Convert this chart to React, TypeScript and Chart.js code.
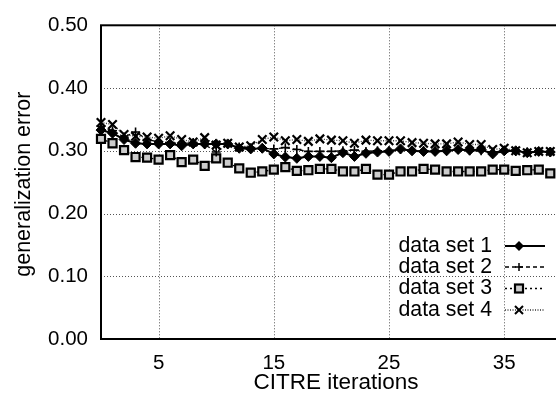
import React, { useEffect, useRef } from "react";
import { Chart, registerables } from "chart.js";

Chart.register(...registerables);

const iterations = [
  0, 1, 2, 3, 4, 5, 6, 7, 8, 9, 10, 11, 12, 13, 14, 15, 16, 17, 18, 19,
  20, 21, 22, 23, 24, 25, 26, 27, 28, 29, 30, 31, 32, 33, 34, 35, 36, 37, 38, 39,
];

const dataSet1 = [
  0.333, 0.328, 0.318, 0.312, 0.311, 0.311, 0.311, 0.308, 0.311, 0.311,
  0.311, 0.311, 0.304, 0.303, 0.304, 0.295, 0.290, 0.288, 0.291, 0.291,
  0.289, 0.297, 0.291, 0.296, 0.298, 0.299, 0.303, 0.300, 0.299, 0.299,
  0.300, 0.302, 0.301, 0.302, 0.295, 0.300, 0.300, 0.297, 0.299, 0.298,
];

const dataSet2 = [
  0.339, 0.332, 0.322, 0.330, 0.318, 0.314, 0.313, 0.311, 0.313, 0.310,
  0.298, 0.310, 0.306, 0.305, 0.304, 0.303, 0.305, 0.302, 0.299, 0.299,
  0.299, 0.300, 0.301, 0.299, 0.300, 0.300, 0.302, 0.300, 0.300, 0.300,
  0.300, 0.302, 0.300, 0.300, 0.298, 0.300, 0.299, 0.298, 0.299, 0.298,
];

const dataSet3 = [
  0.319, 0.312, 0.301, 0.290, 0.289, 0.286, 0.293, 0.282, 0.286, 0.276,
  0.288, 0.281, 0.272, 0.265, 0.267, 0.270, 0.274, 0.268, 0.269, 0.271,
  0.271, 0.267, 0.267, 0.271, 0.262, 0.262, 0.267, 0.267, 0.271, 0.270,
  0.267, 0.267, 0.267, 0.267, 0.270, 0.270, 0.268, 0.269, 0.270, 0.264,
];

const dataSet4 = [
  0.345, 0.342, 0.326, 0.323, 0.322, 0.320, 0.324, 0.318, 0.314, 0.321,
  0.309, 0.312, 0.306, 0.308, 0.318, 0.322, 0.316, 0.318, 0.315, 0.319,
  0.317, 0.316, 0.312, 0.317, 0.316, 0.316, 0.316, 0.313, 0.312, 0.311,
  0.311, 0.314, 0.310, 0.310, 0.302, 0.304, 0.300, 0.297, 0.299, 0.299,
];

const seriesLabels = ["data set 1", "data set 2", "data set 3", "data set 4"];
const xTickValues = [5, 15, 25, 35];
const xTitle = "CITRE iterations";
const yTitle = "generalization error";

const FAMILY = "'Liberation Sans', Arial, sans-serif";

type Style = {
  dash: number[];
  width: number;
  color: string;
  marker: "diamond" | "plus" | "box" | "cross";
};

const styles: Style[] = [
  { dash: [], width: 2, color: "#000", marker: "diamond" },
  { dash: [4, 3], width: 1.3, color: "#000", marker: "plus" },
  { dash: [2, 3], width: 1.3, color: "#000", marker: "box" },
  { dash: [1, 1.5], width: 1.3, color: "#333", marker: "cross" },
];

function drawMarker(ctx: CanvasRenderingContext2D, m: Style["marker"], x: number, y: number) {
  ctx.save();
  ctx.setLineDash([]);
  ctx.strokeStyle = "#000";
  ctx.fillStyle = "#000";
  if (m === "diamond") {
    ctx.beginPath();
    ctx.moveTo(x - 5, y);
    ctx.lineTo(x, y - 5);
    ctx.lineTo(x + 5, y);
    ctx.lineTo(x, y + 5);
    ctx.closePath();
    ctx.fill();
  } else if (m === "plus") {
    ctx.lineWidth = 1.5;
    ctx.beginPath();
    ctx.moveTo(x - 4, y);
    ctx.lineTo(x + 4, y);
    ctx.moveTo(x, y - 4);
    ctx.lineTo(x, y + 4);
    ctx.stroke();
  } else if (m === "box") {
    ctx.lineWidth = 2.2;
    ctx.fillStyle = "#ccc";
    ctx.fillRect(x - 4, y - 4, 8, 8);
    ctx.strokeRect(x - 4, y - 4, 8, 8);
  } else {
    ctx.lineWidth = 2;
    ctx.beginPath();
    ctx.moveTo(x - 4, y - 4);
    ctx.lineTo(x + 4, y + 4);
    ctx.moveTo(x + 4, y - 4);
    ctx.lineTo(x - 4, y + 4);
    ctx.stroke();
  }
  ctx.restore();
}

const framePlugin = {
  id: "gnuplotFrame",
  beforeDatasetsDraw(chart: any) {
    const { ctx, chartArea } = chart;
    const xs = chart.scales.x;
    const ys = chart.scales.y;
    ctx.save();
    ctx.strokeStyle = "#555";
    ctx.lineWidth = 1;
    ctx.setLineDash([1, 2]);
    for (const v of xTickValues) {
      const px = Math.round(xs.getPixelForValue(v)) + 0.5;
      ctx.beginPath();
      ctx.moveTo(px, chartArea.top);
      ctx.lineTo(px, chartArea.bottom);
      ctx.stroke();
    }
    for (const t of ys.ticks) {
      if (t.value <= ys.min + 1e-9 || t.value >= ys.max - 1e-9) continue;
      const py = Math.round(ys.getPixelForValue(t.value)) + 0.5;
      ctx.beginPath();
      ctx.moveTo(chartArea.left, py);
      ctx.lineTo(chartArea.right, py);
      ctx.stroke();
    }
    ctx.setLineDash([]);
    ctx.strokeStyle = "#000";
    ctx.lineWidth = 2;
    ctx.strokeRect(chartArea.left, chartArea.top, chartArea.right - chartArea.left, chartArea.bottom - chartArea.top);
    ctx.restore();
  },
  afterDraw(chart: any) {
    const { ctx, chartArea } = chart;
    ctx.save();
    ctx.fillStyle = "#000";
    // legend
    ctx.font = `21.3px ${FAMILY}`;
    const rowY = [246, 267, 288.5, 310];
    seriesLabels.forEach((label, i) => {
      const s = styles[i];
      ctx.textAlign = "right";
      ctx.textBaseline = "middle";
      ctx.fillText(label, 492, rowY[i]);
      ctx.strokeStyle = s.color;
      ctx.lineWidth = s.width;
      ctx.setLineDash(s.dash);
      ctx.beginPath();
      ctx.moveTo(505, rowY[i]);
      ctx.lineTo(545, rowY[i]);
      ctx.stroke();
      drawMarker(ctx, s.marker, 519, rowY[i]);
    });
    ctx.setLineDash([]);
    // axis titles
    ctx.textAlign = "center";
    ctx.textBaseline = "alphabetic";
    ctx.font = `22.5px ${FAMILY}`;
    ctx.fillText(xTitle, 336, 389);
    ctx.font = `21.5px ${FAMILY}`;
    ctx.translate(30, (chartArea.top + chartArea.bottom) / 2 + 2);
    ctx.rotate(-Math.PI / 2);
    ctx.fillText(yTitle, 0, 0);
    ctx.restore();
  },
};

export default function App() {
  const ref = useRef<HTMLCanvasElement | null>(null);

  useEffect(() => {
    if (!ref.current) return;
    const allSeries = [dataSet1, dataSet2, dataSet3, dataSet4];
    const pointStyleMap: any = { diamond: "rectRot", plus: "cross", box: "rect", cross: "crossRot" };
    const radiusMap: any = { diamond: 5, plus: 4.5, box: 5.7, cross: 6 };
    const chart = new Chart(ref.current, {
      type: "line",
      data: {
        datasets: allSeries.map((vals, i) => {
          const s = styles[i];
          return {
            label: seriesLabels[i],
            data: iterations.map((x, j) => ({ x, y: vals[j] })),
            borderColor: s.color,
            borderWidth: s.width,
            borderDash: s.dash,
            pointStyle: pointStyleMap[s.marker],
            pointRadius: radiusMap[s.marker],
            pointBorderColor: "#000",
            pointBackgroundColor: s.marker === "box" ? "#ccc" : "#000",
            pointBorderWidth: s.marker === "diamond" ? 1 : s.marker === "plus" ? 1.6 : 2.2,
            fill: false,
            tension: 0,
            clip: 10,
          } as any;
        }),
      },
      options: {
        animation: false,
        responsive: false,
        devicePixelRatio: 1,
        layout: { padding: { top: 17, left: 0, right: 8, bottom: 0 } },
        plugins: { legend: { display: false }, tooltip: { enabled: false } },
        scales: {
          x: {
            type: "linear",
            min: 0,
            max: 40,
            grid: { display: false, drawTicks: false },
            border: { display: false },
            afterBuildTicks: (scale: any) => {
              scale.ticks = xTickValues.map((v) => ({ value: v }));
            },
            afterFit: (scale: any) => {
              scale.height = 55;
            },
            ticks: {
              color: "#000",
              font: { family: FAMILY, size: 20.5 },
              padding: 12,
              maxRotation: 0,
              autoSkip: false,
            },
          },
          y: {
            type: "linear",
            min: 0,
            max: 0.5,
            grid: { display: false, drawTicks: false },
            border: { display: false },
            afterFit: (scale: any) => {
              scale.width = 101;
            },
            ticks: {
              stepSize: 0.1,
              color: "#000",
              font: { family: FAMILY, size: 20.5 },
              padding: 13,
              callback: (v: any) => Number(v).toFixed(2),
            },
          },
        },
      },
      plugins: [framePlugin],
    });
    return () => chart.destroy();
  }, []);

  return (
    <div style={{ position: "fixed", left: 0, top: 0, width: 556, height: 394, overflow: "hidden", background: "#fff" }}>
      <canvas ref={ref} width={570} height={394} style={{ width: 570, height: 394, display: "block" }} />
    </div>
  );
}
